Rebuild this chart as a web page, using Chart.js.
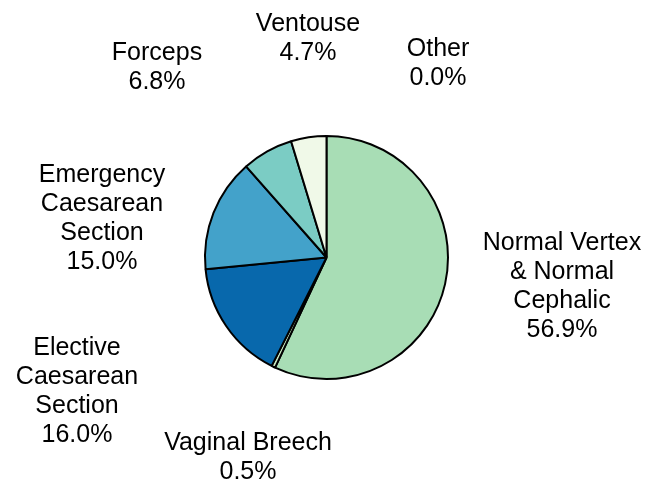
<!DOCTYPE html>
<html>
<head>
<meta charset="utf-8">
<script src="https://cdn.jsdelivr.net/npm/chart.js@4"></script>
<style>
html,body{margin:0;padding:0;background:#fff;}
#wrap{width:646px;height:479px;position:relative;}
</style>
</head>
<body>
<div id="wrap"><canvas id="c" width="646" height="479"></canvas></div>
<script>
const categories = [
  ["Normal Vertex", "& Normal", "Cephalic"],
  ["Vaginal Breech"],
  ["Elective", "Caesarean", "Section"],
  ["Emergency", "Caesarean", "Section"],
  ["Forceps"],
  ["Ventouse"],
  ["Other"]
];
const values = [56.9, 0.5, 16.0, 15.0, 6.8, 4.7, 0.0];
const colors = ["#a8ddb5", "#ccebc5", "#0868ac", "#43a2ca", "#7bccc4", "#f0f9e8", "#ffffff"];
// label anchor (x center, y of first line cap-center) in canvas px
const labelPos = [[562, 241], [248, 441], [77, 346], [102, 173], [157, 51], [308, 22], [438, 47]];

const FONT = '25px "Liberation Sans", Arial, sans-serif';
const LINE_H = 29;

const labelPlugin = {
  id: 'outLabels',
  afterDraw(chart) {
    const ctx = chart.ctx;
    ctx.save();
    ctx.font = FONT;
    ctx.fillStyle = '#000';
    ctx.textAlign = 'center';
    ctx.textBaseline = 'alphabetic';
    categories.forEach((lines, i) => {
      const all = lines.concat([values[i].toFixed(1) + '%']);
      const [x, y] = labelPos[i];
      all.forEach((t, k) => {
        ctx.fillText(t, x, y + k * LINE_H + 9);
      });
    });
    ctx.restore();
  }
};

new Chart(document.getElementById('c'), {
  type: 'pie',
  data: {
    labels: categories.map(l => l.join(' ')),
    datasets: [{
      data: values,
      backgroundColor: colors,
      borderColor: '#000',
      borderWidth: 2
    }]
  },
  options: {
    responsive: false,
    animation: false,
    layout: { padding: { left: 204, right: 197, top: 135, bottom: 99 } },
    plugins: { legend: { display: false }, tooltip: { enabled: false } }
  },
  plugins: [labelPlugin]
});
</script>
</body>
</html>
